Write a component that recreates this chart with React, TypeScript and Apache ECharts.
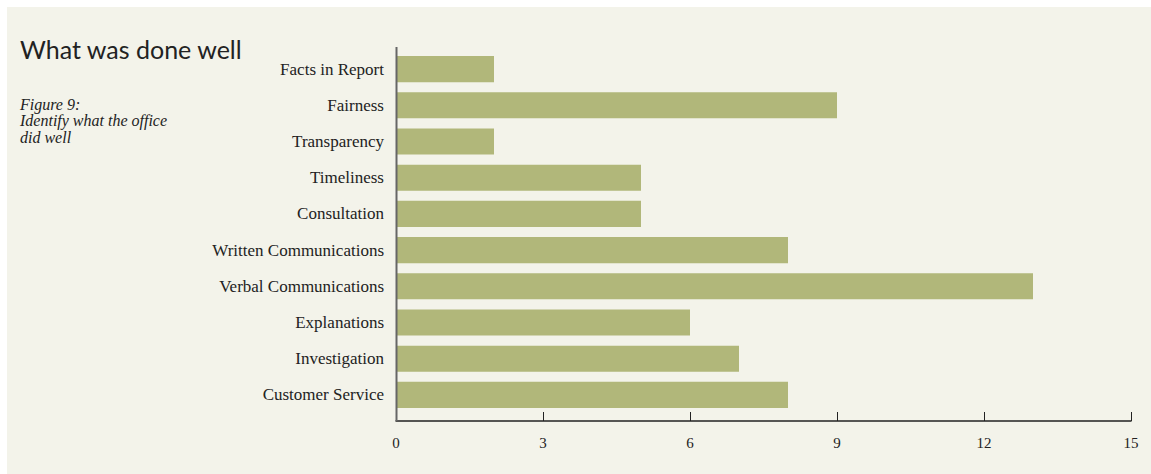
import React, { useEffect, useRef } from "react";
import * as echarts from "echarts";

const categories = [
  "Facts in Report",
  "Fairness",
  "Transparency",
  "Timeliness",
  "Consultation",
  "Written Communications",
  "Verbal Communications",
  "Explanations",
  "Investigation",
  "Customer Service",
];
const values = [2, 9, 2, 5, 5, 8, 13, 6, 7, 8];
const xTicks = [0, 3, 6, 9, 12, 15];

const title = "What was done well";
const subtitle = "Figure 9:\nIdentify what the office\ndid well";

export default function App() {
  const ref = useRef<HTMLDivElement>(null);
  useEffect(() => {
    if (!ref.current) return;
    const chart = echarts.init(ref.current, null, { renderer: "svg" });
    const serif = "'Liberation Serif', 'DejaVu Serif', serif";
    chart.setOption({
      animation: false,
      backgroundColor: "#f3f3ea",
      grid: { left: 389, top: 44, width: 735, height: 362 },
      xAxis: {
        type: "value",
        min: xTicks[0],
        max: xTicks[xTicks.length - 1],
        interval: 3,
        offset: 8,
        axisLine: { show: true, lineStyle: { color: "#222", width: 1.5 } },
        axisTick: { show: true, inside: true, length: 9, lineStyle: { color: "#222", width: 1 } },
        axisLabel: { color: "#222", fontFamily: serif, fontSize: 15, margin: 14 },
        splitLine: { show: false },
      },
      yAxis: {
        type: "category",
        data: categories,
        inverse: true,
        axisLine: { show: false },
        axisTick: { show: false },
        axisLabel: { color: "#222", fontFamily: serif, fontSize: 17, margin: 12 },
      },
      series: [
        {
          type: "bar",
          data: values,
          barCategoryGap: "28%",
          itemStyle: { color: "#b1b77a" },
        },
      ],
      graphic: [
        {
          type: "line",
          shape: { x1: 389.5, y1: 40, x2: 389.5, y2: 414 },
          style: { stroke: "#666", lineWidth: 2 },
          z: 10,
        },
        {
          type: "text",
          left: 13,
          top: 29,
          style: { text: title, fontFamily: "Lato, 'Noto Sans', sans-serif", fontSize: 25, fill: "#222" },
        },
        {
          type: "text",
          left: 13,
          top: 89,
          style: {
            text: subtitle,
            fontFamily: serif,
            fontStyle: "italic",
            fontSize: 16,
            lineHeight: 16.5,
            fill: "#222",
          },
        },
      ],
    });
    return () => chart.dispose();
  }, []);
  return (
    <div
      ref={ref}
      style={{ position: "absolute", left: 7, top: 7, width: 1144, height: 467 }}
    />
  );
}
